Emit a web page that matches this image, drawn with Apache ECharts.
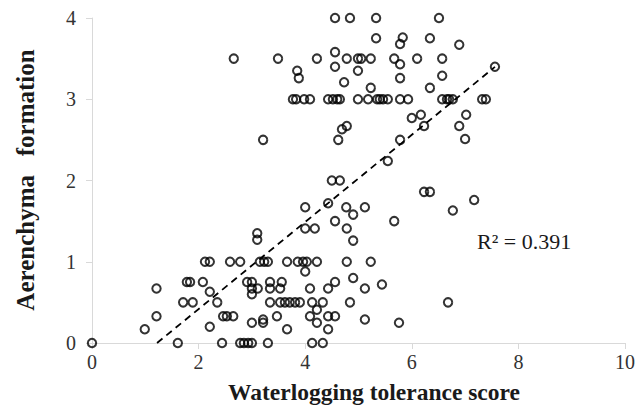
<!DOCTYPE html>
<html>
<head>
<meta charset="utf-8">
<script src="https://cdn.jsdelivr.net/npm/echarts@6/dist/echarts.min.js"></script>
<style>
  html, body { margin: 0; padding: 0; background: #fff; }
  #chart { width: 644px; height: 413px; }
</style>
</head>
<body>
<div id="chart"></div>
<script>
// waterlogging tolerance score (x) vs aerenchyma formation (y)
var scoreX = [
  4.56, 4.84, 5.33, 6.51,
  5.33, 5.83, 5.78, 6.34, 6.89,
  2.66, 3.49, 4.22, 4.56, 4.56, 4.78, 4.99, 5.05, 5.23, 5.67, 5.78, 6.10, 6.57, 6.57,
  3.85, 3.88, 4.99, 4.73, 5.23, 5.78, 6.34, 7.56,
  3.77, 3.83, 3.98, 4.09, 4.43, 4.52, 4.60, 4.65, 4.99, 5.18, 5.35, 5.40, 5.46, 5.55, 5.78, 5.93, 6.57, 6.66, 6.70, 6.77, 7.32, 7.39,
  4.69, 4.78, 4.62, 3.21, 6.00, 6.17, 5.78, 5.55, 6.23, 7.02, 6.89, 7.00,
  4.50, 4.65,
  6.23, 6.34, 7.17, 6.77, 4.43, 4.00, 4.77, 5.12, 4.90, 4.56, 5.67, 4.00, 4.18, 4.78, 4.90, 3.10, 3.10,
  2.12, 2.21, 2.59, 2.78, 3.15, 3.23, 3.30, 3.66, 3.86, 3.96, 4.03, 4.22, 4.78, 5.23,
  4.00, 4.90,
  4.56, 1.78, 1.84, 2.08, 2.91, 3.00, 3.34, 3.56,
  5.44,
  5.12, 4.43, 4.09, 1.21, 3.00, 3.11, 3.34, 3.53,
  2.21, 3.00,
  1.71, 1.89, 2.35, 3.34, 3.53, 3.62, 3.71, 3.81, 3.90, 4.13, 4.33, 4.84, 6.68,
  4.22,
  1.21, 2.46, 2.53, 2.65, 3.47, 4.09, 4.43, 4.56,
  3.21, 5.12,
  3.00, 3.21, 4.22, 5.76,
  2.21,
  0.99, 3.66, 4.43,
  0.00, 1.61, 2.44, 2.78, 2.85, 2.93, 3.00, 3.30, 4.13, 4.33
]
var aerenchymaY = [
  4.00, 4.00, 4.00, 4.00,
  3.75, 3.76, 3.68, 3.75, 3.67,
  3.50, 3.50, 3.50, 3.58, 3.40, 3.50, 3.50, 3.50, 3.50, 3.50, 3.43, 3.50, 3.50, 3.29,
  3.35, 3.26, 3.35, 3.21, 3.14, 3.26, 3.14, 3.40,
  3.00, 3.00, 3.00, 3.00, 3.00, 3.00, 3.00, 3.00, 3.00, 3.00, 3.00, 3.00, 3.00, 3.00, 3.00, 3.00, 3.00, 3.00, 3.00, 3.00, 3.00, 3.00,
  2.63, 2.67, 2.50, 2.50, 2.77, 2.81, 2.50, 2.24, 2.67, 2.81, 2.67, 2.51,
  2.00, 2.00,
  1.86, 1.86, 1.76, 1.63, 1.72, 1.67, 1.67, 1.67, 1.58, 1.50, 1.50, 1.41, 1.41, 1.41, 1.26, 1.35, 1.27,
  1.00, 1.00, 1.00, 1.00, 1.00, 1.00, 1.00, 1.00, 1.00, 1.00, 1.00, 1.00, 1.00, 1.00,
  0.88, 0.80,
  0.75, 0.75, 0.75, 0.75, 0.75, 0.75, 0.75, 0.75,
  0.72,
  0.67, 0.67, 0.67, 0.67, 0.67, 0.67, 0.67, 0.67,
  0.63, 0.60,
  0.50, 0.50, 0.50, 0.50, 0.50, 0.50, 0.50, 0.50, 0.50, 0.50, 0.50, 0.50, 0.50,
  0.41,
  0.33, 0.33, 0.33, 0.33, 0.33, 0.33, 0.33, 0.33,
  0.29, 0.29,
  0.25, 0.25, 0.25, 0.25,
  0.20,
  0.17, 0.17, 0.17,
  0, 0, 0, 0, 0, 0, 0, 0, 0, 0
]
// linear trendline as drawn in the figure
var trendSlope = 0.536
var trendIntercept = -0.654
var r2Label = 'R² = 0.391'
var xTicks = [0, 2, 4, 6, 8, 10]
var yTicks = [0, 1, 2, 3, 4]

var points = []
for (var i = 0; i < scoreX.length; i++) {
  points.push([scoreX[i], aerenchymaY[i]])
}
var xMinData = Math.min.apply(null, scoreX)
var xMaxData = Math.max.apply(null, scoreX)
var trendData = [
  [xMinData, trendSlope * xMinData + trendIntercept],
  [xMaxData, trendSlope * xMaxData + trendIntercept]
]

var serif = '"Liberation Serif", "Times New Roman", serif'
var axisGray = '#d9d9d9'

var chart = echarts.init(document.getElementById('chart'), null, { renderer: 'svg' })
var option = {
  backgroundColor: '#fff',
  animation: false,
  grid: {
    left: 92,
    right: 19,
    top: 18,
    bottom: 70
  },
  xAxis: {
    type: 'value',
    min: xTicks[0],
    max: xTicks[xTicks.length - 1],
    interval: xTicks[1] - xTicks[0],
    axisLine: { show: true, onZero: false, lineStyle: { color: axisGray, width: 1 } },
    axisTick: { show: true, length: 6, lineStyle: { color: axisGray } },
    splitLine: { show: false },
    axisLabel: {
      margin: 9,
      color: '#333',
      fontFamily: serif,
      fontSize: 20
    }
  },
  yAxis: {
    type: 'value',
    min: yTicks[0],
    max: yTicks[yTicks.length - 1],
    interval: yTicks[1] - yTicks[0],
    axisLine: { show: true, onZero: false, lineStyle: { color: axisGray, width: 1 } },
    axisTick: { show: true, length: 6, lineStyle: { color: axisGray } },
    splitLine: { show: false },
    axisLabel: {
      margin: 16,
      color: '#333',
      fontFamily: serif,
      fontSize: 20
    }
  },
  graphic: [
    {
      type: 'text',
      x: 374,
      y: 392,
      style: {
        text: 'Waterlogging tolerance score',
        font: 'bold 23.5px ' + serif,
        fill: '#1a1a1a',
        align: 'center',
        verticalAlign: 'middle'
      }
    },
    {
      type: 'text',
      x: 25,
      y: 180,
      rotation: Math.PI / 2,
      style: {
        text: 'Aerenchyma   formation',
        font: 'bold 25px ' + serif,
        fill: '#1a1a1a',
        align: 'center',
        verticalAlign: 'middle'
      }
    },
    {
      type: 'text',
      x: 477,
      y: 241,
      style: {
        text: r2Label,
        font: '22px ' + serif,
        fill: '#1a1a1a',
        align: 'left',
        verticalAlign: 'middle'
      }
    }
  ],
  series: [
    {
      name: 'trend',
      type: 'line',
      data: trendData,
      symbol: 'none',
      clip: true,
      z: 1,
      lineStyle: {
        color: '#000',
        width: 1.8,
        type: [7, 5]
      }
    },
    {
      name: 'samples',
      type: 'scatter',
      data: points,
      symbol: 'circle',
      symbolSize: 8.4,
      z: 2,
      itemStyle: {
        color: 'rgba(255,255,255,0)',
        borderColor: '#000',
        borderWidth: 2
      }
    }
  ]
}
chart.setOption(option)
</script>
</body>
</html>
